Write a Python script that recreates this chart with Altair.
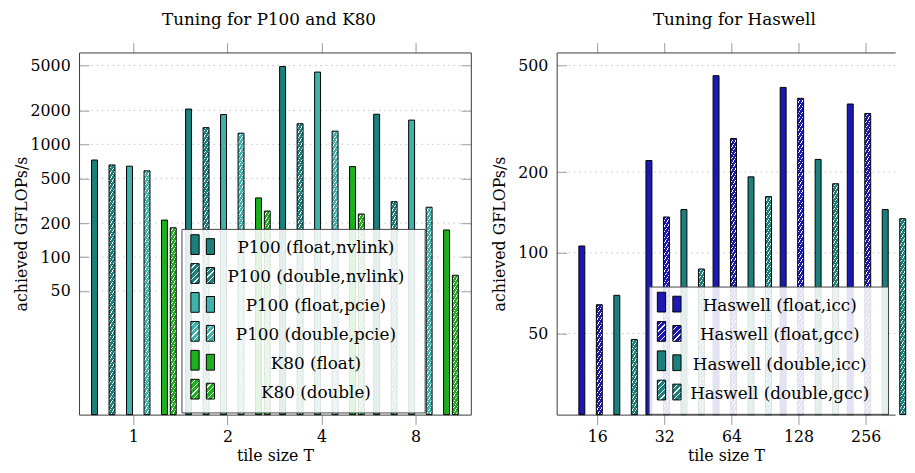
import math
import altair as alt

FONT = "DejaVu Serif"
FS = 17     # titles and legend text
AFS = 16    # axis labels and axis titles

# ---------------- data ----------------
left_T = ["1", "2", "4", "8"]
left_series = ["P100 (float,nvlink)", "P100 (double,nvlink)", "P100 (float,pcie)",
               "P100 (double,pcie)", "K80 (float)", "K80 (double)"]
p100_float_nvlink = [726, 2055, 4900, 1849]
p100_double_nvlink = [657, 1406, 1524, 310]
p100_float_pcie = [640, 1837, 4375, 1641]
p100_double_pcie = [582, 1256, 1309, 277]
k80_float = [213, 335, 635, 174]
k80_double = [182, 256, 241, 69]
left_ticks = [50, 100, 200, 500, 1000, 2000, 5000]

right_T = ["16", "32", "64", "128", "256"]
right_series = ["Haswell (float,icc)", "Haswell (float,gcc)",
                "Haswell (double,icc)", "Haswell (double,gcc)"]
haswell_float_icc = [106, 221, 458, 414, 359]
haswell_float_gcc = [64, 136, 267, 377, 331]
haswell_double_icc = [69.4, 145, 192, 223, 145]
haswell_double_gcc = [47.5, 87, 162, 181, 134]
right_ticks = [50, 100, 200, 500]

# ---------------- style ----------------
TEAL_D = "#1b807c"
TEAL_L = "#3eb3ae"
GREEN = "#1cb01c"
BLUE = "#1c19b3"
left_colors = [TEAL_D, TEAL_D, TEAL_L, TEAL_L, GREEN, GREEN]
left_hatch = [False, True, False, True, False, True]
right_colors = [BLUE, BLUE, TEAL_D, TEAL_D]
right_hatch = [False, True, False, True]

H = 367
LW, RW = 397, 343
L_DOM = [4.01, 6527]
R_DOM = [24.9, 559]


def hatch(color, w, h, period=5.7, white=0.22):
    """Diagonal white hatch expressed as an objectBoundingBox linear gradient."""
    h = max(h, 1.0)
    n = int(math.ceil((w + h) / period))
    L = n * period
    s = L / (w * w + h * h)
    stops = []
    for k in range(n):
        a, b = k / n, (k + 1) / n
        m = b - white / n
        stops += [{"offset": round(a, 5), "color": color},
                  {"offset": round(m, 5), "color": color},
                  {"offset": round(m, 5), "color": "white"},
                  {"offset": round(b, 5), "color": "white"}]
    return {"gradient": "linear", "x1": 0, "y1": 0,
            "x2": round(s * w, 5), "y2": round(s * h, 5), "stops": stops}


def px_height(v, dom):
    lo, hi = math.log10(dom[0]), math.log10(dom[1])
    return H * (math.log10(v) - lo) / (hi - lo)


def bar_rows(Ts, series, vals, colors, hatched, dom):
    rows = []
    for name, vs, c, hh in zip(series, vals, colors, hatched):
        for t, v in zip(Ts, vs):
            f = hatch(c, 10, px_height(v, dom)) if hh else c
            rows.append({"T": t, "series": name, "value": v, "fill": f})
    return rows


def legend_rows(series, colors, hatched):
    rows = []
    for i, (name, c, hh) in enumerate(zip(series, colors, hatched)):
        rows.append({"row": i, "label": name,
                     "fa": hatch(c, 8.4, 20) if hh else c,
                     "fb": hatch(c, 8.3, 16) if hh else c})
    return rows


left_rows = bar_rows(left_T, left_series,
                     [p100_float_nvlink, p100_double_nvlink, p100_float_pcie,
                      p100_double_pcie, k80_float, k80_double],
                     left_colors, left_hatch, L_DOM)
right_rows = bar_rows(right_T, right_series,
                      [haswell_float_icc, haswell_float_gcc,
                       haswell_double_icc, haswell_double_gcc],
                      right_colors, right_hatch, R_DOM)


def panel(rows, Ts, series, ticks, dom, width, xscale, title, title_dx,
          ytitle_pad, mirror_right, leg):
    data = alt.Data(values=rows)
    yscale = alt.Scale(type="log", domain=dom, nice=False)
    xs = alt.Scale(**xscale)

    grid = alt.Chart(alt.Data(values=[{"v": t} for t in ticks])).mark_rule(
        color="#b5b5b5", strokeWidth=1, strokeDash=[1.2, 4.2]
    ).encode(y=alt.Y("v:Q", scale=yscale, axis=None))

    bars = alt.Chart(data).mark_bar(stroke="black", strokeWidth=1).encode(
        x=alt.X("T:N", sort=Ts, scale=xs,
                axis=alt.Axis(orient="bottom", title="tile size T", labelAngle=0,
                              tickSize=10, labelPadding=4, titlePadding=3,
                              domain=True)),
        xOffset=alt.XOffset("series:N", sort=series,
                            scale=alt.Scale(paddingInner=0.32, paddingOuter=0.16)),
        y=alt.Y("value:Q", scale=yscale, stack=None,
                axis=alt.Axis(orient="left", values=ticks, format="d",
                              title="achieved GFLOPs/s", titlePadding=ytitle_pad,
                              tickSize={"expr": "-10"}, labelPadding=19,
                              domain=True)),
        fill=alt.Fill("fill:N", scale=None),
    )

    yax = alt.Axis(orient="right", values=ticks, labels=False, title=None,
                   tickSize={"expr": "-10"}, domain=True) if mirror_right else None
    frame = alt.Chart(data).mark_point(opacity=0).encode(
        x=alt.X("T:N", sort=Ts, scale=xs,
                axis=alt.Axis(orient="top", labels=False, title=None,
                              tickSize=10, domain=True)),
        y=alt.Y("value:Q", scale=yscale, axis=yax),
    )

    lrows, bx0, bx1, by0, by1, r0, r1, sx, tx = leg
    sp = (r1 - r0) / (len(lrows) - 1)
    rscale = alt.Scale(domain=[0, len(lrows) - 1], range=[r0, r1], nice=False, zero=False)
    bg = alt.Chart(alt.Data(values=[{"k": 0}])).mark_rect(
        fill="white", fillOpacity=0.88, stroke="#444444", strokeWidth=1
    ).encode(x=alt.value(bx0), x2=alt.value(bx1), y=alt.value(by0), y2=alt.value(by1))
    ldata = alt.Data(values=lrows)
    sw_a = alt.Chart(ldata).transform_calculate(
        top=f"datum.row - {14 / sp}", bot=f"datum.row + {6 / sp}"
    ).mark_rect(stroke="black", strokeWidth=1).encode(
        x=alt.value(sx), x2=alt.value(sx + 8.4),
        y=alt.Y("top:Q", scale=rscale, axis=None), y2="bot:Q",
        fill=alt.Fill("fa:N", scale=None))
    sw_b = alt.Chart(ldata).transform_calculate(
        top=f"datum.row - {10 / sp}", bot=f"datum.row + {6 / sp}"
    ).mark_rect(stroke="black", strokeWidth=1).encode(
        x=alt.value(sx + 15.7), x2=alt.value(sx + 24),
        y=alt.Y("top:Q", scale=rscale, axis=None), y2="bot:Q",
        fill=alt.Fill("fb:N", scale=None))
    txt = alt.Chart(ldata).mark_text(
        font=FONT, fontSize=FS, align="center", baseline="middle", color="black"
    ).encode(x=alt.value(tx), y=alt.Y("row:Q", scale=rscale, axis=None),
             text="label:N")

    return alt.layer(grid, bars, frame, bg, sw_a, sw_b, txt).resolve_scale(
        y="independent"
    ).properties(
        width=width, height=H,
        title=alt.TitleParams(title, font=FONT, fontSize=FS, fontWeight="normal",
                              color="black", offset=13, dx=title_dx))


left = panel(left_rows, left_T, left_series, left_ticks, L_DOM, LW,
             dict(paddingInner=0.07, paddingOuter=0.118),
             "Tuning for P100 and K80", -6, 1, True,
             (legend_rows(left_series, left_colors, left_hatch),
              104.3, 350.7, 179.3, 365.3, 198.7, 345.2, 113.3, 240))
right = panel(right_rows, right_T, right_series, right_ticks, R_DOM, RW,
              dict(paddingInner=0.1353, paddingOuter=0.0897, align=1),
              "Tuning for Haswell", 8.5, 10, False,
              (legend_rows(right_series, right_colors, right_hatch),
               93.7, 336.3, 237.7, 366.7, 257, 346.1, 102, 226))

chart = alt.hconcat(left, right, spacing=20).properties(
    padding={"left": 5, "top": 0, "right": 0, "bottom": 0}
).configure_view(stroke=None).configure_axis(
    labelFont=FONT, labelFontSize=AFS, labelColor="black",
    titleFont=FONT, titleFontSize=AFS, titleFontWeight="normal", titleColor="black",
    tickColor="#9a9a9a", tickWidth=1, domainColor="#3a3a3a", domainWidth=1,
    grid=False,
)

chart.save("out.html", embed_options={"renderer": "svg", "actions": False})
